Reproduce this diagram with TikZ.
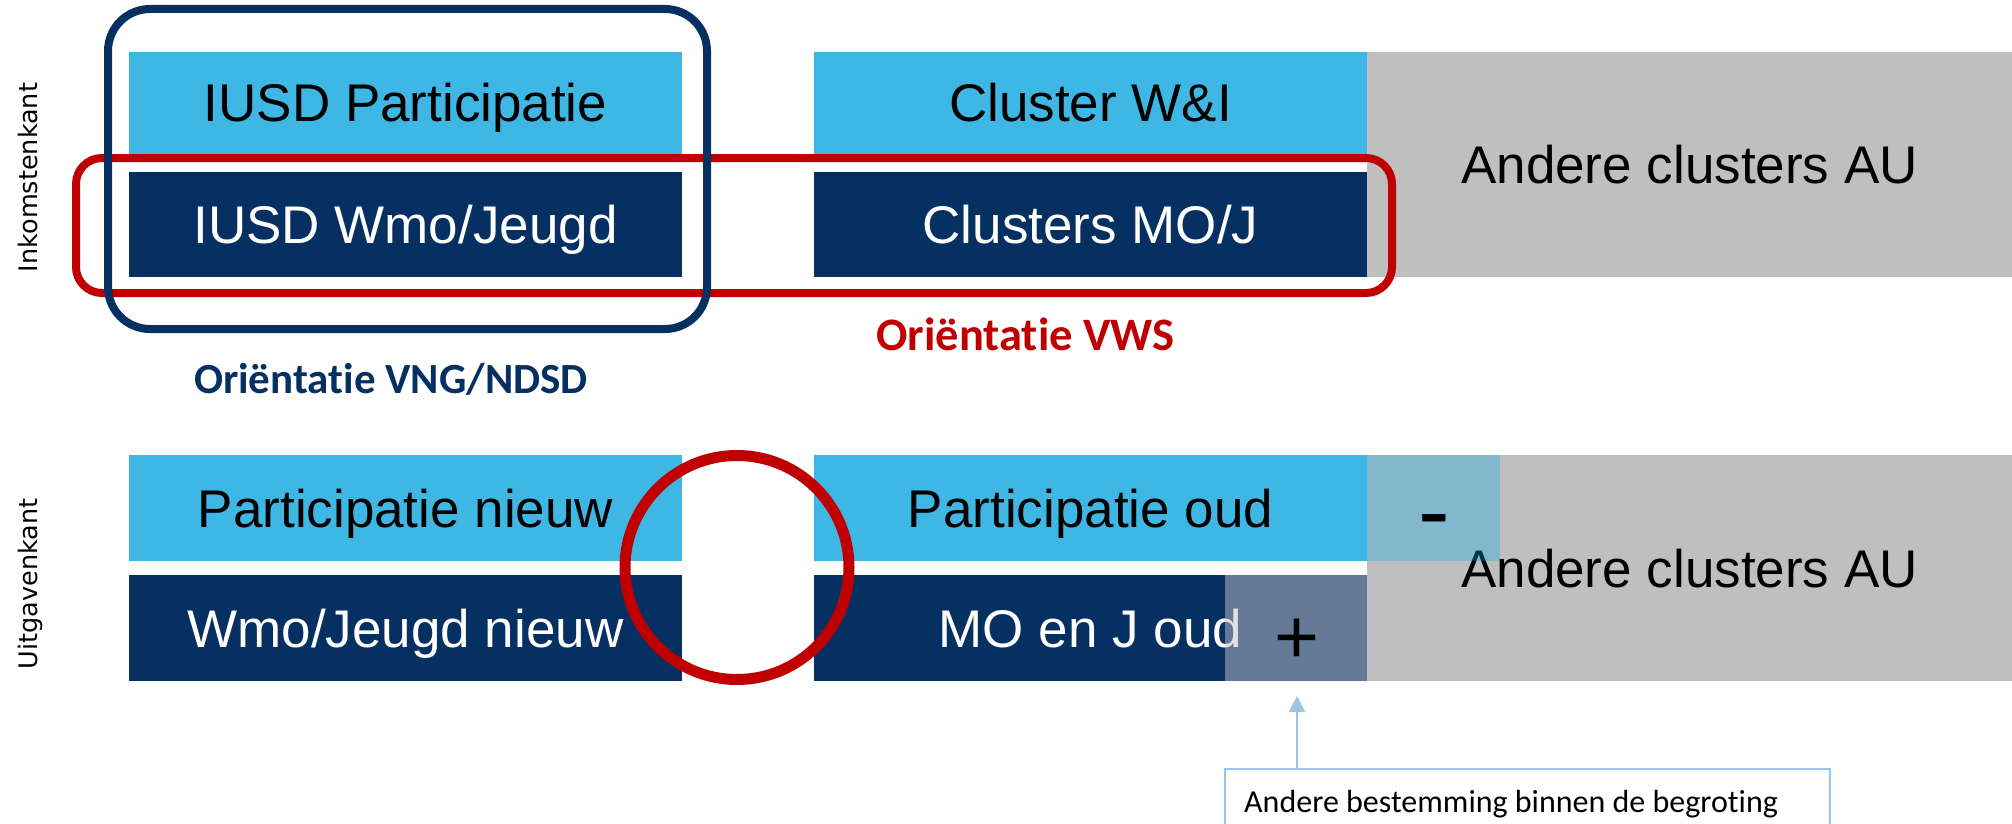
\documentclass[tikz,border=0pt]{standalone}
\usepackage{fontspec}
\setmainfont{Liberation Sans}
\newfontfamily\carlito[Ligatures=NoCommon]{Carlito}
\newfontfamily\dejavu{DejaVu Sans}
\usetikzlibrary{arrows.meta}
\definecolor{lblue}{HTML}{3FB7E4}
\definecolor{navy}{HTML}{063062}
\definecolor{agray}{HTML}{BFBFBF}
\definecolor{ored}{HTML}{C00000}
\definecolor{minusc}{RGB}{0,168,239}
\definecolor{plusc}{RGB}{196,196,205}
\definecolor{callout}{HTML}{9DC3E6}
\begin{document}
\begin{tikzpicture}[x=1pt,y=-1pt,
  box/.style={rectangle, inner sep=0pt, outer sep=0pt, text height=38pt, text depth=0pt,
    font=\fontsize{53}{60}\selectfont},
  lbox/.style={box, fill=lblue, text=black},
  dbox/.style={box, fill=navy, text=white},
  gbox/.style={box, fill=agray, text=black},
  side/.style={anchor=base, rotate=90, font=\dejavu\fontsize{25.5}{30}\selectfont, text=black},
  orient/.style={anchor=base, font=\carlito\bfseries\fontsize{#1}{50}\selectfont},
  frame/.style={draw=#1, fill=none, rectangle, inner sep=0pt, outer sep=0pt},
  sym/.style={anchor=base, inner sep=0pt, text=black},
]
\clip (0,0) rectangle (2012,824);
% side labels
\node[side] (ink) at (37,177.5) {Inkomstenkant};
\node[side] (uit) at (37,584) {Uitgavenkant};
% top row
\node[lbox, minimum width=553pt, minimum height=102pt] (iusdp) at (405.5,103) {IUSD Participatie};
\node[dbox, minimum width=553pt, minimum height=105pt] (iusdw) at (405.5,224.5) {IUSD Wmo/Jeugd};
\node[lbox, minimum width=553pt, minimum height=102pt] (cwi) at (1090.5,103) {Cluster W\&I};
\node[dbox, minimum width=553pt, minimum height=105pt] (cmoj) at (1090.5,224.5) {Clusters MO/J};
\node[gbox, minimum width=645pt, minimum height=225pt] (au1) at (1689.5,164.5) {Andere clusters AU};
% bottom row
\node[lbox, minimum width=553pt, minimum height=106pt] (pn) at (405.5,508) {Participatie nieuw};
\node[dbox, minimum width=553pt, minimum height=106pt] (wn) at (405.5,628) {Wmo/Jeugd nieuw};
\node[lbox, minimum width=553pt, minimum height=106pt] (po) at (1090.5,508) {Participatie oud};
\node[dbox, minimum width=553pt, minimum height=106pt] (mo) at (1090.5,628) {MO en J oud};
\node[gbox, minimum width=645pt, minimum height=226pt] (au2) at (1689.5,568) {Andere clusters AU};
% overlays
\node[rectangle, inner sep=0pt, outer sep=0pt, fill=minusc, fill opacity=0.31,
      minimum width=133pt, minimum height=106pt] (minbox) at (1433.5,508) {};
\node[sym, font=\fontsize{95}{100}\selectfont] (minus) at (1434,543) {-};
\node[rectangle, inner sep=0pt, outer sep=0pt, fill=plusc, fill opacity=0.5,
      minimum width=142pt, minimum height=106pt] (plusbox) at (1296,628) {};
\node[sym, font=\fontsize{77}{80}\selectfont] (plus) at (1297,663) {+};
% frames
\node[frame=ored, line width=8pt, rounded corners=26pt, minimum width=1316pt, minimum height=135pt] (vwsframe) at (734,225.5) {};
\node[frame=navy, line width=8pt, rounded corners=42pt, minimum width=599pt, minimum height=320pt] (vngframe) at (407.5,169) {};
\node[frame=ored, circle, line width=11pt, minimum size=224pt] (gap) at (737,567.5) {};
% orientation labels
\node[orient=43, text=navy] (vng) at (391,393) {Oriëntatie VNG/NDSD};
\node[orient=46.5, text=ored] (vws) at (1025.5,350) {Oriëntatie VWS};
% callout
\node[draw=callout, line width=2.5pt, rectangle, inner sep=0pt, minimum width=605pt, minimum height=120pt] (tb) at (1527.5,829) {};
\node[anchor=base west, inner sep=0pt, font=\carlito\fontsize{32}{38}\selectfont] (tbt) at (1244,812) {Andere bestemming binnen de begroting};
\coordinate (tip) at (1297,696);
\draw[callout, line width=2.5pt, -{Triangle[length=16pt,width=16pt]}] (tb.north -| tip) -- (tip);
\end{tikzpicture}
\end{document}
